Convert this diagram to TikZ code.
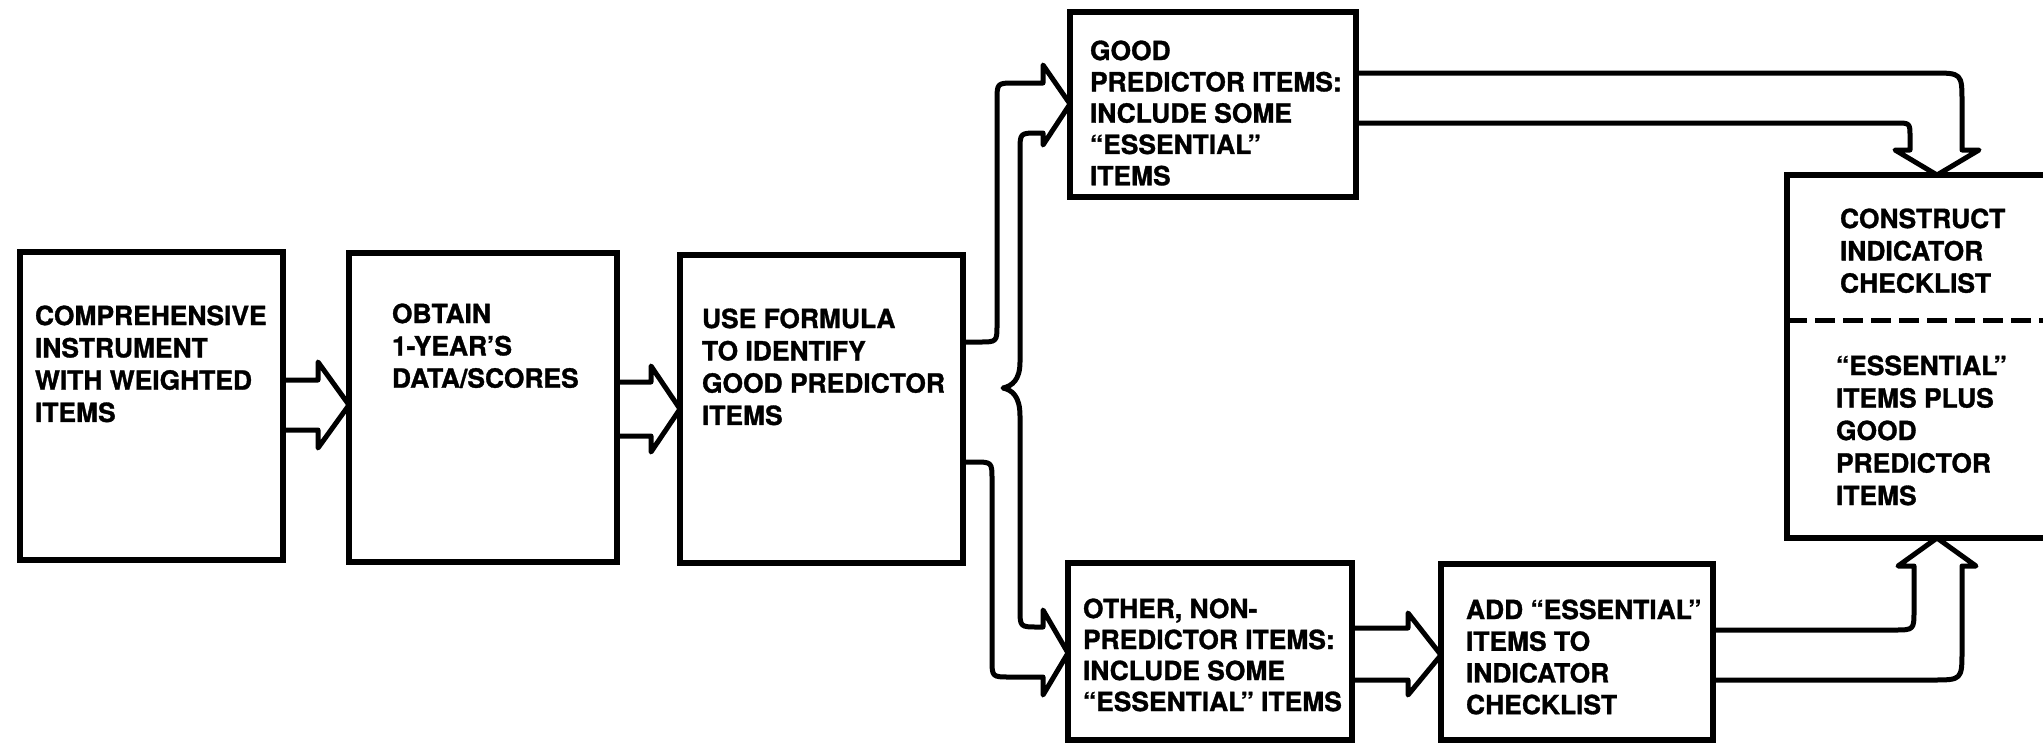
\documentclass[tikz,border=0pt]{standalone}
\usepackage{fontspec}
\setmainfont{TeX Gyre Heros}[BoldFeatures={FakeBold=1.2}]
\usetikzlibrary{calc}
\begin{document}
\begin{tikzpicture}[x=1pt,y=-1pt,
  box/.style 2 args={draw, line width=6.5pt, minimum width=#1, minimum height=#2,
    inner sep=0pt, outer sep=0pt, anchor=north west},
  txt/.style={anchor=north west, inner sep=0pt, outer sep=0pt, align=left,
    font=\bfseries\fontsize{26.4}{32.3}\selectfont},
  conn/.style={line width=5pt, line join=round, line cap=round},
  divider/.style={line width=5pt, dash pattern=on 20pt off 8pt}]
\useasboundingbox (0,0) rectangle (2043,745);
\fill[white] (0,0) rectangle (2043,745);

% boxes
\node[box={263pt}{308pt}] (b1) at (20,252) {};
\node[box={268pt}{309pt}] (b2) at (349,253) {};
\node[box={283pt}{308pt}] (b3) at (680,255) {};
\node[box={286pt}{185pt}] (bg) at (1070,12) {};
\node[box={284pt}{177pt}] (bo) at (1068,563) {};
\node[box={272pt}{176pt}] (ba) at (1441,564) {};
\node[box={300pt}{363pt}] (bc) at (1787,175) {};

% texts
\node[txt] (t1) at ($(b1.north west)+(15,53.5)$) {COMPREHENSIVE\\INSTRUMENT\\WITH WEIGHTED\\ITEMS};
\node[txt] (t2) at ($(b2.north west)+(43,50.5)$) {OBTAIN\\1-YEAR’S\\DATA/SCORES};
\node[txt] (t3) at ($(b3.north west)+(22,53.5)$) {USE FORMULA\\TO IDENTIFY\\GOOD PREDICTOR\\ITEMS};
\node[txt,font=\bfseries\fontsize{26.4}{31.3}\selectfont] (tg) at ($(bg.north west)+(20,28.5)$) {GOOD\\PREDICTOR ITEMS:\\INCLUDE SOME\\“ESSENTIAL”\\ITEMS};
\node[txt,font=\bfseries\fontsize{26.4}{31}\selectfont] (to) at ($(bo.north west)+(15,35.5)$) {OTHER, NON-\\PREDICTOR ITEMS:\\INCLUDE SOME\\“ESSENTIAL” ITEMS};
\node[txt,font=\bfseries\fontsize{26.4}{31.7}\selectfont] (ta) at ($(ba.north west)+(25,35.5)$) {ADD “ESSENTIAL”\\ITEMS TO\\INDICATOR\\CHECKLIST};
\node[txt] (tc1) at ($(bc.north west)+(53,33.5)$) {CONSTRUCT\\INDICATOR\\CHECKLIST};
\node[txt,font=\bfseries\fontsize{26.4}{32.5}\selectfont] (tc2) at ($(bc.north west)+(49,180.5)$) {“ESSENTIAL”\\ITEMS PLUS\\GOOD\\PREDICTOR\\ITEMS};

% divider in construct box
\draw[divider] (bc.west |- 0,320) -- (bc.east |- 0,320);

% block arrows
\draw[conn] (b1.east |- 0,380) -- (318,380) -- (318,362) -- (b2.west |- 0,405)
  -- (318,448) -- (318,430) -- (b1.east |- 0,430);
\draw[conn] (b2.east |- 0,382) -- (651,382) -- (651,366) -- (b3.west |- 0,409)
  -- (651,452) -- (651,436) -- (b2.east |- 0,436);
\draw[conn] (bo.east |- 0,628) -- (1408,628) -- (1408,613) -- (ba.west |- 0,655)
  -- (1408,695) -- (1408,680) -- (bo.east |- 0,680);

% brace split from box 3
\draw[conn] (b3.east |- 0,342) -- (979,342) .. controls (997,342) .. (997,324)
  -- (997,101) .. controls (997,83) .. (1015,83) -- (1043,83) -- (1043,65)
  -- (bg.west |- 0,104) -- (1043,145) -- (1043,133) -- (1038,133)
  .. controls (1020,133) .. (1020,151) -- (1020,362)
  .. controls (1020,380) and (1012,386) .. (1003,388)
  .. controls (1012,390) and (1020,396) .. (1020,416)
  -- (1020,609) .. controls (1020,627) .. (1038,627) -- (1043,627) -- (1043,610)
  -- (bo.west |- 0,653) -- (1043,695) -- (1043,677) -- (1010,677)
  .. controls (992,677) .. (992,659) -- (992,480) .. controls (992,462) .. (974,462)
  -- (b3.east |- 0,462);

% good predictor items -> construct
\draw[conn] (bg.east |- 0,73) -- (1932,73) .. controls (1962,73) .. (1962,103)
  -- (1962,150) -- (1979,150) -- (bc.north) -- (1895,150) -- (1910,150)
  -- (1910,137) .. controls (1910,123) .. (1896,123) -- (bg.east |- 0,123);

% add essential items -> construct
\draw[conn] (ba.east |- 0,630) -- (1894,630) .. controls (1914,630) .. (1914,610)
  -- (1914,566) -- (1898,566) -- (bc.south) -- (1976,566) -- (1962,566)
  -- (1962,650) .. controls (1962,680) .. (1932,680) -- (ba.east |- 0,680);
\end{tikzpicture}
\end{document}
